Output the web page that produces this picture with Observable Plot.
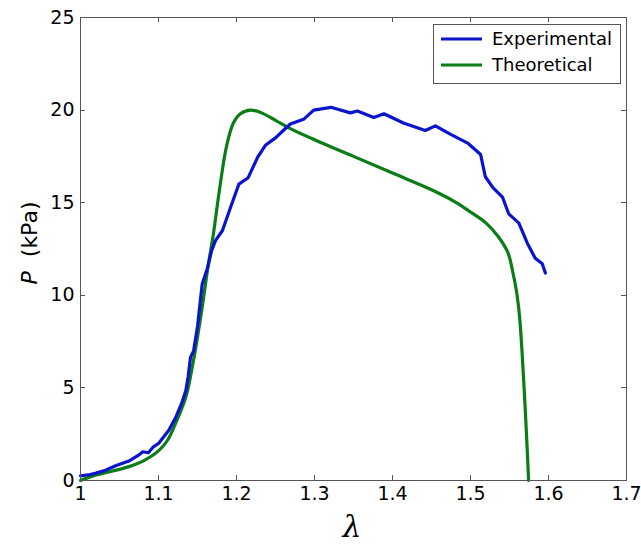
<!DOCTYPE html>
<html><head><meta charset="utf-8">
<script src="https://cdn.jsdelivr.net/npm/d3@7"></script>
<script src="https://cdn.jsdelivr.net/npm/@observablehq/plot@0.6"></script>
<style>
body{margin:0;background:#fff;}
svg{font-family:"DejaVu Sans","Liberation Sans",Arial,sans-serif;}
</style>
</head><body><div id="chart"></div>
<script>
const expLambda = [1.000,1.010,1.020,1.032,1.045,1.062,1.074,1.080,1.087,1.093,1.100,1.113,1.122,1.130,1.135,1.138,1.141,1.145,1.150,1.156,1.163,1.168,1.173,1.182,1.192,1.203,1.215,1.227,1.237,1.250,1.260,1.269,1.286,1.299,1.321,1.346,1.355,1.376,1.389,1.414,1.442,1.455,1.474,1.497,1.513,1.519,1.529,1.541,1.549,1.562,1.573,1.583,1.592,1.596];
const expP = [0.25,0.3,0.4,0.55,0.8,1.05,1.35,1.55,1.5,1.8,2.0,2.7,3.4,4.2,4.85,5.6,6.65,7.0,8.3,10.6,11.5,12.4,12.95,13.5,14.7,16.0,16.35,17.45,18.1,18.5,18.9,19.25,19.5,20.0,20.15,19.85,19.95,19.6,19.8,19.3,18.9,19.15,18.7,18.2,17.6,16.4,15.8,15.3,14.4,13.9,12.8,12.0,11.7,11.2];
const theoLambda = [1.000,1.010,1.020,1.040,1.062,1.080,1.100,1.112,1.122,1.135,1.147,1.156,1.164,1.170,1.178,1.187,1.196,1.205,1.218,1.232,1.250,1.269,1.300,1.350,1.400,1.450,1.480,1.500,1.520,1.535,1.548,1.554,1.559,1.563,1.566,1.569,1.572,1.5745];
const theoP = [0,0.15,0.3,0.5,0.75,1.05,1.6,2.2,3.1,4.5,7.0,9.35,11.7,13.2,15.65,18.0,19.3,19.8,20.0,19.85,19.45,19.0,18.4,17.5,16.6,15.7,15.05,14.5,13.9,13.2,12.3,11.3,10.2,8.8,7.0,4.8,2.3,0];
const xTicks = [1,1.1,1.2,1.3,1.4,1.5,1.6,1.7];
const yTicks = [0,5,10,15,20,25];
const seriesNames = ["Experimental","Theoretical"];
const seriesColors = ["#0a14cc","#0b7d16"];

const expData = expLambda.map((x,i)=>({x, y: expP[i]}));
const theoData = theoLambda.map((x,i)=>({x, y: theoP[i]}));
const fmt = d => d === 1 ? "1" : d.toFixed(1);
const axisColor = "#555";
const fontFam = '"DejaVu Sans", "Liberation Sans", Arial, sans-serif';

const plot = Plot.plot({
  width: 641, height: 544,
  marginLeft: 80, marginRight: 15, marginTop: 17, marginBottom: 64,
  style: {fontFamily: fontFam, background: "#fff"},
  x: {domain: [1, 1.7]},
  y: {domain: [0, 25]},
  marks: [
    Plot.line(theoData, {x: "x", y: "y", stroke: seriesColors[1], strokeWidth: 3.2, curve: "catmull-rom"}),
    Plot.line(expData, {x: "x", y: "y", stroke: seriesColors[0], strokeWidth: 3.2}),
    Plot.frame({stroke: axisColor, strokeWidth: 1}),
    Plot.axisX({ticks: xTicks, tickFormat: fmt, tickSize: 0, tickPadding: 6, fontSize: 19, label: null, fill: "#000"}),
    Plot.axisY({ticks: yTicks, tickSize: 0, tickPadding: 6, fontSize: 19, label: null, fill: "#000"})
  ]
});
document.getElementById("chart").appendChild(plot);

const svg = d3.select(plot);
const sx = plot.scale("x"), sy = plot.scale("y");
const x0 = sx.apply(1), x1 = sx.apply(1.7), y0 = sy.apply(0), y1 = sy.apply(25);
const tk = svg.append("g").attr("stroke", axisColor).attr("stroke-width", 1);
xTicks.forEach(v => {
  const px = Math.round(sx.apply(v)) + 0.5;
  tk.append("line").attr("x1", px).attr("x2", px).attr("y1", y0).attr("y2", y0 - 5);
  tk.append("line").attr("x1", px).attr("x2", px).attr("y1", y1).attr("y2", y1 + 5);
});
yTicks.forEach(v => {
  const py = Math.round(sy.apply(v)) + 0.5;
  tk.append("line").attr("x1", x0).attr("x2", x0 + 5).attr("y1", py).attr("y2", py);
  tk.append("line").attr("x1", x1).attr("x2", x1 - 5).attr("y1", py).attr("y2", py);
});
// y label
const yl = svg.append("text")
  .attr("transform", "translate(37,243) rotate(-90)")
  .attr("text-anchor", "middle")
  .attr("font-size", 22)
  .attr("fill", "#000")
  .style("white-space", "pre");
yl.append("tspan").attr("font-style", "italic").text("P");
yl.append("tspan").text("\u00a0\u00a0(kPa)");
// x label
svg.append("text")
  .attr("x", 352).attr("y", 537)
  .attr("text-anchor", "middle")
  .attr("font-size", 30)
  .attr("font-style", "italic")
  .attr("font-family", '"DejaVu Serif", serif')
  .attr("fill", "#000")
  .text("\u03bb");
// legend
const lg = svg.append("g");
lg.append("rect").attr("x", 433.5).attr("y", 24.5).attr("width", 187).attr("height", 59)
  .attr("fill", "#fff").attr("stroke", axisColor);
seriesNames.forEach((name, i) => {
  const cy = 39 + i * 26;
  lg.append("line").attr("x1", 441).attr("x2", 482).attr("y1", cy).attr("y2", cy)
    .attr("stroke", seriesColors[i]).attr("stroke-width", 3.2);
  lg.append("text").attr("x", 492).attr("y", cy).attr("dy", "0.36em")
    .attr("text-anchor", "start")
    .attr("font-size", 18).attr("fill", "#000").text(name);
});
</script>
</body></html>
